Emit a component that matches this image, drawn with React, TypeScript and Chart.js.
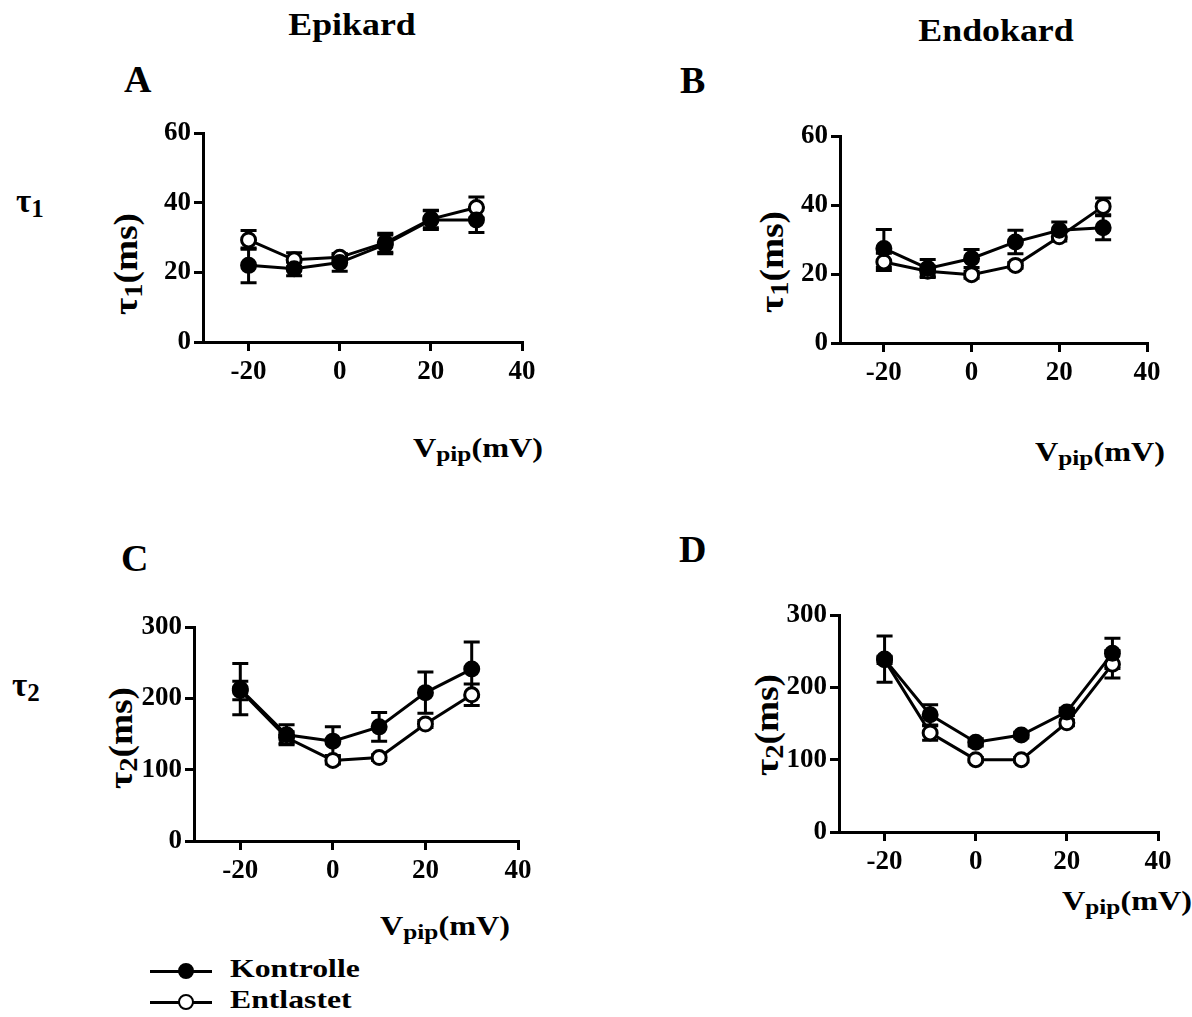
import React, { useEffect, useRef } from "react";
import { Chart, registerables } from "chart.js";

Chart.register(...registerables);

// ---------- DATA ----------
const voltages = [-20, -10, 0, 10, 20, 30];
const xTicks = [-20, 0, 20, 40];
const tau1Ticks = [0, 20, 40, 60];
const tau2Ticks = [0, 100, 200, 300];

// Panel A – Epikard, tau1
const kontrolleA = [22, 21, 22.8, 28, 35, 35];
const errKontrolleA = [5, 2, 2.5, 2.7, 2.7, 3.6];
const entlastetA = [29.3, 23.6, 24.3, 28.5, 35.3, 38.6];
const errEntlastetA = [2.7, 2, 1, 2.7, 2.5, 3];

// Panel B – Endokard, tau1
const kontrolleB = [27.4, 21.6, 24.5, 29.3, 32.7, 33.4];
const errKontrolleB = [5.5, 2.6, 2.6, 3.4, 2.4, 3.5];
const entlastetB = [23.5, 20.8, 19.8, 22.5, 30.8, 39.6];
const errEntlastetB = [2.5, 1.5, 1, 0.8, 1.2, 2.4];

// Panel C – Epikard, tau2
const kontrolleC = [213, 149, 140, 160, 208, 241];
const errKontrolleC = [36, 14, 20, 20, 29, 38];
const entlastetC = [211, 145, 113, 117, 164, 205];
const errEntlastetC = [13, 8, 5, 4, 5, 15];

// Panel D – Endokard, tau2
const kontrolleD = [239, 162, 124, 134, 166, 247];
const errKontrolleD = [32, 14, 5, 4, 5, 21];
const entlastetD = [238, 137, 100, 100, 151, 232];
const errEntlastetD = [5, 10, 3, 3, 4, 19];

const seriesNames = ["Kontrolle", "Entlastet"];

// ---------- HELPERS ----------
const FONT = "'Liberation Serif', 'Times New Roman', serif";

const errorBarPlugin = {
  id: "errorBars",
  beforeDatasetsDraw(chart: any) {
    const ctx = chart.ctx;
    const ys = chart.scales.y;
    chart.data.datasets.forEach((ds: any, i: number) => {
      const errs = ds.errors as number[] | undefined;
      if (!errs) return;
      const meta = chart.getDatasetMeta(i);
      ctx.save();
      ctx.strokeStyle = "#000";
      ctx.lineWidth = 3;
      meta.data.forEach((pt: any, j: number) => {
        const v = ds.data[j].y;
        const e = errs[j];
        const yTop = ys.getPixelForValue(v + e);
        const yBot = ys.getPixelForValue(v - e);
        const x = pt.x;
        ctx.beginPath();
        ctx.moveTo(x, yTop);
        ctx.lineTo(x, yBot);
        ctx.moveTo(x - 8, yTop);
        ctx.lineTo(x + 8, yTop);
        ctx.moveTo(x - 8, yBot);
        ctx.lineTo(x + 8, yBot);
        ctx.stroke();
      });
      ctx.restore();
    });
  },
};

type Area = { left: number; right: number; top: number; bottom: number };

function Panel(props: {
  area: Area;
  yMax: number;
  yTicks: number[];
  kontrolle: number[];
  errK: number[];
  entlastet: number[];
  errE: number[];
}) {
  const ref = useRef<HTMLCanvasElement>(null);
  const YW = 70, XH = 50, PT = 20, PR = 30;
  const { area } = props;
  const left = area.left - YW;
  const top = area.top - PT;
  const width = area.right - left + PR;
  const height = area.bottom - top + XH;

  useEffect(() => {
    const tickFont = { family: FONT, weight: "bold" as const, size: 27 };
    const mk = (vals: number[]) => voltages.map((x, i) => ({ x, y: vals[i] }));
    const chart = new Chart(ref.current as HTMLCanvasElement, {
      type: "line",
      data: {
        datasets: [
          {
            label: seriesNames[0],
            data: mk(props.kontrolle),
            errors: props.errK,
            borderColor: "#000",
            borderWidth: 3,
            pointRadius: 7.5,
            pointBackgroundColor: "#000",
            pointBorderColor: "#000",
            pointBorderWidth: 2,
            fill: false,
            tension: 0,
          } as any,
          {
            label: seriesNames[1],
            data: mk(props.entlastet),
            errors: props.errE,
            borderColor: "#000",
            borderWidth: 3,
            pointRadius: 7,
            pointBackgroundColor: "#fff",
            pointBorderColor: "#000",
            pointBorderWidth: 3,
            fill: false,
            tension: 0,
          } as any,
        ],
      },
      options: {
        responsive: false,
        animation: false,
        devicePixelRatio: 1,
        layout: { padding: { top: PT, right: PR, left: 0, bottom: 0 } },
        plugins: { legend: { display: false }, tooltip: { enabled: false } },
        scales: {
          x: {
            type: "linear",
            min: -30,
            max: 40,
            afterBuildTicks: (s: any) => {
              s.ticks = xTicks.map((v) => ({ value: v }));
            },
            afterFit: (s: any) => {
              s.height = XH;
            },
            grid: { drawOnChartArea: false, drawTicks: true, tickLength: 9, lineWidth: 3, color: "#000" },
            border: { display: true, width: 3, color: "#000" },
            ticks: { font: tickFont, color: "#000", padding: 5, maxRotation: 0, autoSkip: false },
          },
          y: {
            type: "linear",
            min: 0,
            max: props.yMax,
            afterBuildTicks: (s: any) => {
              s.ticks = props.yTicks.map((v) => ({ value: v }));
            },
            afterFit: (s: any) => {
              s.width = YW;
            },
            grid: { drawOnChartArea: false, drawTicks: true, tickLength: 9, lineWidth: 3, color: "#000" },
            border: { display: true, width: 3, color: "#000" },
            ticks: { font: tickFont, color: "#000", padding: 3, autoSkip: false },
          },
        },
      } as any,
      plugins: [errorBarPlugin],
    });
    return () => chart.destroy();
  }, []);

  return (
    <canvas
      ref={ref}
      width={width}
      height={height}
      style={{ position: "absolute", left, top, width, height }}
    />
  );
}

function Txt(props: { x: number; y: number; size: number; sx?: number; center?: boolean; children: any }) {
  const { x, y, size, sx = 1, center = false } = props;
  const top = y - 0.8375 * size;
  const tr = (center ? "translateX(-50%) " : "") + `scaleX(${sx})`;
  return (
    <div
      style={{
        position: "absolute",
        left: x,
        top,
        fontFamily: FONT,
        fontWeight: "bold",
        fontSize: size,
        lineHeight: 1,
        whiteSpace: "nowrap",
        color: "#000",
        transform: tr,
        transformOrigin: center ? "center top" : "left top",
      }}
    >
      {props.children}
    </div>
  );
}

const subStyle = (size: number, drop: number) => ({
  fontSize: size,
  position: "relative" as const,
  top: drop,
});

function YTitle(props: { cx: number; cy: number; sub: string }) {
  return (
    <div
      style={{
        position: "absolute",
        left: props.cx,
        top: props.cy,
        fontFamily: FONT,
        fontWeight: "bold",
        fontSize: 34,
        lineHeight: 1,
        whiteSpace: "nowrap",
        transform: "translate(-50%,-50%) rotate(-90deg) scaleX(1.1)",
      }}
    >
      τ<span style={subStyle(26, 5)}>{props.sub}</span>(ms)
    </div>
  );
}

function XTitle(props: { x: number; y: number }) {
  return (
    <Txt x={props.x} y={props.y} size={28} sx={1.15}>
      V<span style={subStyle(22, 4)}>pip</span>(mV)
    </Txt>
  );
}

function LegendRow(props: { y: number; filled: boolean; label: string }) {
  return (
    <>
      <div style={{ position: "absolute", left: 150, top: props.y - 1.5, width: 62, height: 3, background: "#000" }} />
      <div
        style={{
          position: "absolute",
          left: 186 - 8,
          top: props.y - 8,
          width: 16,
          height: 16,
          borderRadius: "50%",
          boxSizing: "border-box",
          background: props.filled ? "#000" : "#fff",
          border: "2.5px solid #000",
        }}
      />
      <Txt x={230} y={props.y + 7} size={26} sx={1.22}>
        {props.label}
      </Txt>
    </>
  );
}

export default function App() {
  return (
    <div style={{ position: "absolute", left: 0, top: 0, width: 1192, height: 1017, background: "#fff", overflow: "hidden" }}>
      <Txt x={352} y={35} size={32} sx={1.12} center>Epikard</Txt>
      <Txt x={996} y={41} size={32} sx={1.12} center>Endokard</Txt>

      <Txt x={124} y={92} size={38}>A</Txt>
      <Txt x={680} y={93} size={38}>B</Txt>
      <Txt x={121} y={571} size={38}>C</Txt>
      <Txt x={679} y={562} size={38}>D</Txt>

      <Txt x={16} y={213} size={33}>
        τ<span style={subStyle(25, 5)}>1</span>
      </Txt>
      <Txt x={12} y={697} size={33}>
        τ<span style={subStyle(25, 5)}>2</span>
      </Txt>

      <YTitle cx={126} cy={264} sub="1" />
      <YTitle cx={772} cy={262} sub="1" />
      <YTitle cx={121} cy={738} sub="2" />
      <YTitle cx={767} cy={725} sub="2" />

      <XTitle x={413} y={457} />
      <XTitle x={1035} y={461} />
      <XTitle x={380} y={935} />
      <XTitle x={1062} y={910} />

      <Panel area={{ left: 203, right: 522, top: 133, bottom: 342 }} yMax={60} yTicks={tau1Ticks}
        kontrolle={kontrolleA} errK={errKontrolleA} entlastet={entlastetA} errE={errEntlastetA} />
      <Panel area={{ left: 840, right: 1147, top: 136, bottom: 343 }} yMax={60} yTicks={tau1Ticks}
        kontrolle={kontrolleB} errK={errKontrolleB} entlastet={entlastetB} errE={errEntlastetB} />
      <Panel area={{ left: 194, right: 518, top: 627, bottom: 841 }} yMax={300} yTicks={tau2Ticks}
        kontrolle={kontrolleC} errK={errKontrolleC} entlastet={entlastetC} errE={errEntlastetC} />
      <Panel area={{ left: 839, right: 1158, top: 615, bottom: 832 }} yMax={300} yTicks={tau2Ticks}
        kontrolle={kontrolleD} errK={errKontrolleD} entlastet={entlastetD} errE={errEntlastetD} />

      <LegendRow y={971} filled label={seriesNames[0]} />
      <LegendRow y={1002} filled={false} label={seriesNames[1]} />
    </div>
  );
}
